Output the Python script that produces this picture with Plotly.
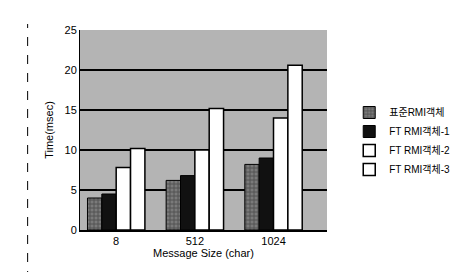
import plotly.graph_objects as go

categories = ["8", "512", "1024"]
series_names = ["표준RMI객체", "FT RMI객체-1", "FT RMI객체-2", "FT RMI객체-3"]
standard = [4.0, 6.2, 8.2]
ft1 = [4.5, 6.8, 9.0]
ft2 = [7.8, 10.0, 14.0]
ft3 = [10.2, 15.2, 20.6]
y_ticks = [0, 5, 10, 15, 20, 25]

fig = go.Figure()
fig.add_trace(go.Bar(x=categories, y=standard, name=series_names[0],
                     marker=dict(color="#6a6a6a", line=dict(color="black", width=1),
                                 pattern=dict(shape="+", fgcolor="#222", bgcolor="#7a7a7a", size=4, solidity=0.4))))
fig.add_trace(go.Bar(x=categories, y=ft1, name=series_names[1],
                     marker=dict(color="#111111", line=dict(color="black", width=1))))
fig.add_trace(go.Bar(x=categories, y=ft2, name=series_names[2],
                     marker=dict(color="white", line=dict(color="black", width=1.5))))
fig.add_trace(go.Bar(x=categories, y=ft3, name=series_names[3],
                     marker=dict(color="white", line=dict(color="black", width=1.5))))

font_family = "Liberation Sans, Arial, Noto Sans CJK KR, sans-serif"

fig.update_layout(
    width=459, height=272,
    margin=dict(l=72, r=109, t=22, b=50),
    paper_bgcolor="white",
    plot_bgcolor="#b4b4b4",
    barmode="group", bargap=0.27, bargroupgap=0.0,
    showlegend=True,
    legend=dict(x=1.09, y=0.66, xanchor="left", yanchor="top",
                font=dict(family=font_family, size=10, color="black"),
                bgcolor="rgba(0,0,0,0)", tracegroupgap=0, itemwidth=30),
    font=dict(family=font_family, color="black"),
    xaxis=dict(type="category", range=[-0.46, 2.68], showgrid=False,
               ticks="", tickfont=dict(size=11, color="black"),
               title=dict(text="Message Size (char)", font=dict(size=11), standoff=2),
               showline=True, linecolor="black", linewidth=2),
    yaxis=dict(range=[0, 25], tickvals=y_ticks, showgrid=True, gridcolor="black",
               gridwidth=1.5, zeroline=False, ticks="", tickfont=dict(size=11, color="black"),
               title=dict(text="Time(msec)", font=dict(size=11), standoff=8),
               showline=True, linecolor="black", linewidth=1),
)

fig.add_shape(type="line", xref="paper", yref="paper", x0=-0.212, x1=-0.212, y0=-0.25, y1=1.03,
              line=dict(color="black", width=1, dash="dash"))

fig.write_html("out.html")
